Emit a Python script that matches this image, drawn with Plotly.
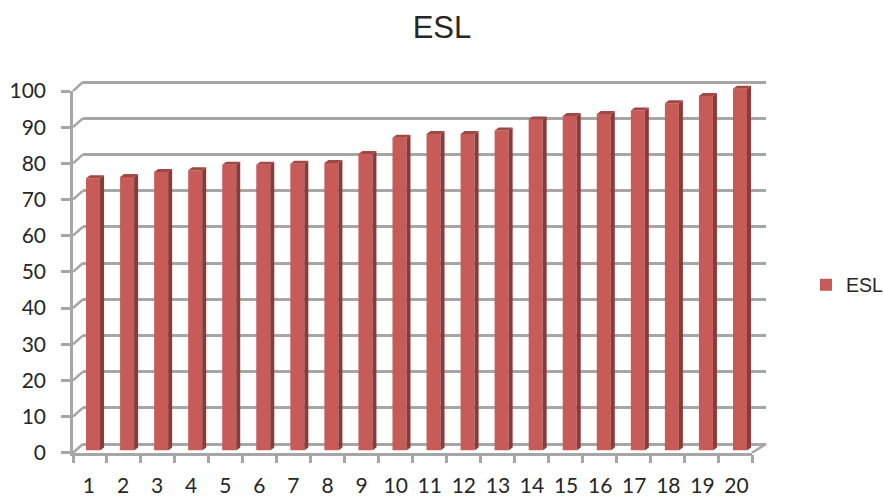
import plotly.graph_objects as go

W, H = 884, 497
categories = [str(i) for i in range(1, 21)]
esl_values = [75.3, 75.6, 77.0, 77.5, 79.0, 79.0, 79.3, 79.5, 82.0, 86.5,
              87.5, 87.5, 88.5, 91.5, 92.5, 93.0, 94.0, 96.0, 98.0, 100.0]
y_ticks = list(range(0, 101, 10))

GREY = "#a6a6a6"
FRONT, SIDE, TOP = "#c75b58", "#8a3b39", "#a34745"
TICK_FONT = dict(family="Lato, Carlito, sans-serif", size=21, color="#262626")

# plot-box geometry (pixels)
FX0, FX1, FY0, FY100 = 73, 752, 452.7, 91      # front of the floor
BX0, BX1, BY0, BY100 = 83, 766, 444, 82        # back wall
BARX0, BARX1 = 76, 757                         # bars run on a very slightly wider scale
SY = 2.2                                       # bars stand slightly inside the floor
PY = (FY0 - FY100) / 100
PX = (BARX1 - BARX0) / 20
BPY = (BY0 - BY100) / 100
DX, DY = 4 / PX, 3 / PY                        # bar depth in data units
BW = 14 / PX
HEAD = 6                                       # extra value room for bar tops
PAD = 2                                        # wall range overrun, keeps 0 and 100 gridlines
LABEL_SHIFT, LABEL_STRETCH = -0.03, 0.0039     # labels drift a little against the tick marks

def xd(a, b):
    return [a / W, b / W]

def yd(bottom, top):
    return [1 - bottom / H, 1 - top / H]

fig = go.Figure()

# bar layer
for i, v in enumerate(esl_values):
    c = i + 1
    r = c + BW / 2
    l = c - BW / 2
    fig.add_trace(go.Scatter(x=[r, r + DX, r + DX, r, r], y=[0, DY, v + DY, v, 0],
                             mode="lines", fill="toself", fillcolor=SIDE, line=dict(width=0),
                             showlegend=False, hoverinfo="skip", xaxis="x3", yaxis="y3"))
    fig.add_trace(go.Scatter(x=[l, l + DX, r + DX, r, l], y=[v, v + DY, v + DY, v, v],
                             mode="lines", fill="toself", fillcolor=TOP, line=dict(width=0),
                             showlegend=False, hoverinfo="skip", xaxis="x3", yaxis="y3"))
fig.add_trace(go.Bar(x=list(range(1, 21)), y=esl_values, width=BW, name="ESL",
                     marker=dict(color=FRONT, line=dict(width=0)),
                     xaxis="x3", yaxis="y3"))

# invisible traces to bring the wall and front axes to life
fig.add_trace(go.Scatter(x=[1], y=[0], mode="markers", marker=dict(opacity=0),
                         showlegend=False, hoverinfo="skip", xaxis="x", yaxis="y"))
fig.add_trace(go.Scatter(x=[1], y=[0], mode="markers", marker=dict(opacity=0),
                         showlegend=False, hoverinfo="skip", xaxis="x2", yaxis="y2"))

# diagonal joints between the front axis and the back wall
shapes = []
for t in y_ticks:
    shapes.append(dict(type="line", xref="paper", yref="paper", layer="below",
                       x0=FX0 / W, x1=BX0 / W,
                       y0=1 - (FY0 - t * PY) / H, y1=1 - (BY0 - t * BPY) / H,
                       line=dict(color=GREY, width=2.5)))
shapes.append(dict(type="line", xref="paper", yref="paper", layer="below",
                   x0=FX1 / W, x1=BX1 / W, y0=1 - FY0 / H, y1=1 - BY0 / H,
                   line=dict(color=GREY, width=2.5)))

fig.update_layout(
    width=W, height=H, margin=dict(l=0, r=0, t=0, b=0, autoexpand=False),
    autosize=False,
    paper_bgcolor="white", plot_bgcolor="rgba(0,0,0,0)",
    barmode="overlay", shapes=shapes,
    title=dict(text="ESL", x=0.5, xanchor="center", y=1 - 27 / H, yanchor="middle",
               font=dict(family="Liberation Sans, Arial, sans-serif", size=31, color="#262626")),
    legend=dict(x=806 / W, xanchor="left", y=1 - 285 / H, yanchor="middle",
                font=dict(family="Liberation Sans, Arial, sans-serif", size=19.5, color="#262626"),
                itemwidth=30, bgcolor="rgba(0,0,0,0)", tracegroupgap=0),
    # back wall
    xaxis=dict(domain=xd(BX0, BX1), range=[0, 1], showgrid=False, zeroline=False,
               showticklabels=False, ticks="", anchor="y"),
    yaxis=dict(domain=yd(BY0 + PAD * BPY, BY100 - PAD * BPY), range=[-PAD, 100 + PAD],
               tickvals=y_ticks, showgrid=True, gridcolor=GREY, gridwidth=2.5, zeroline=False,
               showticklabels=False, ticks="", anchor="x"),
    # front axes with labels
    xaxis2=dict(domain=xd(FX0, FX1), range=[0.5, 20.5], tickmode="array",
                tickvals=[c + LABEL_SHIFT + (c - 1) * LABEL_STRETCH for c in range(1, 21)],
                ticktext=categories, ticks="",
                showgrid=False, zeroline=False, showline=True, linecolor=GREY, linewidth=2.5,
                tickfont=TICK_FONT, ticklabelstandoff=12, anchor="y2",
                minor=dict(tickmode="linear", tick0=0.5, dtick=1, ticks="outside", ticklen=8,
                           tickwidth=2.5, tickcolor=GREY, showgrid=False)),
    yaxis2=dict(domain=yd(FY0, FY100), range=[0, 100], tickvals=y_ticks, ticks="outside",
                ticklen=9, tickwidth=2.5, tickcolor=GREY, showgrid=False, zeroline=False,
                showline=True, linecolor=GREY, linewidth=2.5, tickfont=TICK_FONT,
                ticklabelstandoff=11, anchor="x2"),
    # bars
    xaxis3=dict(domain=xd(BARX0, BARX1), range=[0.5, 20.5], visible=False, anchor="y3"),
    yaxis3=dict(domain=yd(FY0 - SY, FY100 - SY - HEAD * PY), range=[0, 100 + HEAD],
                visible=False, anchor="x3"),
)

fig.write_html("out.html", config=dict(displayModeBar=False),
               post_script="document.body.style.margin='0';")
